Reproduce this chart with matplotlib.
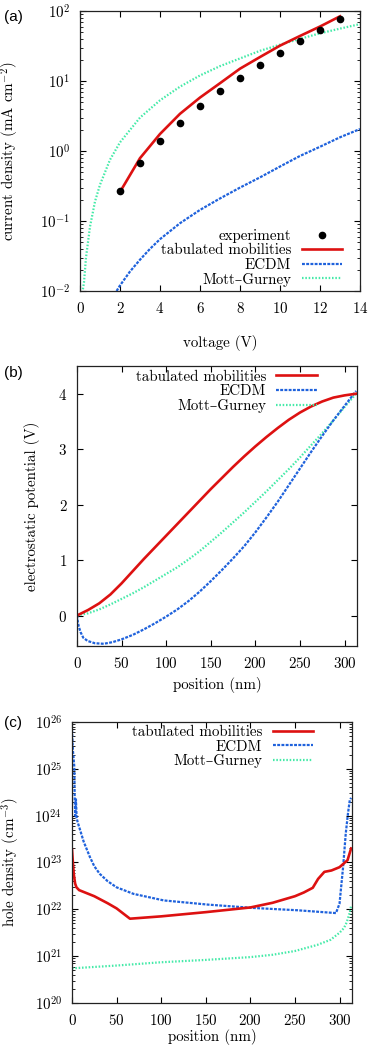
import matplotlib
matplotlib.use("Agg")
import matplotlib.pyplot as plt
from matplotlib.ticker import LogLocator, NullFormatter, MultipleLocator
import numpy as np

# (a) current density vs voltage
V_exp = [2, 3, 4, 5, 6, 7, 8, 9, 10, 11, 12, 13]
J_exp = [0.27, 0.67, 1.39, 2.55, 4.4, 7.2, 11.2, 17.2, 25.5, 37, 53, 76]
V_tab = [2, 3, 4, 5, 6, 7, 8, 9, 10, 11, 12, 13]
J_tab = [0.26, 0.79, 1.75, 3.4, 5.8, 9.3, 15, 22, 32, 44, 60, 84]
V_ecdm = [1.83, 2, 2.5, 3, 3.5, 4, 5, 6, 7, 8, 9, 10, 11, 12, 13, 14]
J_ecdm = [0.01, 0.012, 0.019, 0.028, 0.04, 0.055, 0.093, 0.144, 0.21, 0.3,
          0.42, 0.6, 0.85, 1.15, 1.57, 2.06]
V_mg = [0.12, 0.2, 0.3, 0.5, 0.75, 1, 1.5, 2, 3, 4, 5, 6, 7, 8, 9, 10, 11, 12, 13, 14]
J_mg = [0.0095, 0.0133, 0.03, 0.083, 0.19, 0.33, 0.75, 1.33, 3.0, 5.3, 8.3, 12,
        16.3, 21, 27, 33, 40, 48, 56, 65]

# (b) electrostatic potential vs position
x_b = [0, 12.5, 25, 37.5, 50, 62.5, 75, 87.5, 100, 112.5, 125, 137.5, 150, 162.5,
       175, 187.5, 200, 212.5, 225, 237.5, 250, 262.5, 275, 287.5, 300, 313]
phi_tab = [0, 0.1, 0.22, 0.38, 0.58, 0.8, 1.02, 1.23, 1.44, 1.65, 1.86, 2.07, 2.28,
           2.48, 2.68, 2.87, 3.05, 3.22, 3.38, 3.53, 3.66, 3.77, 3.86, 3.93, 3.97, 4.0]
phi_mg = [0, 0.04, 0.11, 0.2, 0.3, 0.4, 0.51, 0.63, 0.75, 0.87, 1.01, 1.16, 1.33,
          1.5, 1.68, 1.86, 2.05, 2.24, 2.44, 2.64, 2.85, 3.07, 3.29, 3.52, 3.76, 4.0]
x_ecdm_b = [0, 1, 2, 4, 7, 12, 20, 30, 40, 50, 62.5, 75, 87.5, 100, 112.5, 125,
            137.5, 150, 162.5, 175, 187.5, 200, 212.5, 225, 237.5, 250, 262.5, 275,
            287.5, 300, 313]
phi_ecdm = [0, -0.12, -0.2, -0.3, -0.4, -0.46, -0.5, -0.51, -0.48, -0.43, -0.35,
            -0.25, -0.14, -0.02, 0.11, 0.26, 0.43, 0.62, 0.82, 1.03, 1.25, 1.5, 1.77,
            2.05, 2.35, 2.65, 2.95, 3.24, 3.52, 3.78, 4.05]

# (c) hole density vs position (log10 of cm^-3)
x_tab_c = [0, 1, 2, 3.5, 5, 8, 25, 40, 50, 65, 100, 150, 200, 225, 250, 260,
           270, 276, 283, 291, 300, 309, 313]
p_tab = [23.28, 23.0, 22.75, 22.55, 22.47, 22.41, 22.28, 22.13, 22.02, 21.80, 21.85,
         21.94, 22.04, 22.14, 22.28, 22.36, 22.46, 22.65, 22.80, 22.83, 22.90,
         23.05, 23.30]
x_ecdm_c = [0, 1, 2.6, 3.0, 3.6, 4.4, 5.2, 6.5, 9, 13, 20, 25, 31, 40, 50, 69, 103,
            153, 203, 253, 296, 300, 304, 307, 309.5, 311.5, 313]
p_ecdm = [25.83, 25.4, 25.04, 24.4, 24.0, 24.35, 23.95, 23.85, 23.7, 23.45, 23.12,
          22.92, 22.76, 22.6, 22.47, 22.33, 22.19, 22.10, 22.03, 21.98, 21.92, 22.12,
          22.9, 23.62, 24.05, 24.33, 24.38]
x_mg_c = [0, 50, 100, 150, 200, 225, 250, 275, 290, 300, 305, 308, 311, 313]
p_mg = [20.74, 20.80, 20.87, 20.92, 20.98, 21.03, 21.11, 21.24, 21.35, 21.5, 21.6,
        21.72, 21.9, 22.07]

RED = '#dd1111'
BLUE = '#1f62dc'
GREEN = '#44eaa8'
FS = 10.8
DASH = (0, (1.3, 0.6))
DOT = (0, (0.7, 0.8))

plt.rcParams['font.family'] = ['cmr10', 'DejaVu Serif']
plt.rcParams['mathtext.fontset'] = 'cm'
plt.rcParams['axes.formatter.use_mathtext'] = True
plt.rcParams['font.size'] = FS
plt.rcParams['lines.dash_capstyle'] = 'butt'


def style_axes(ax):
    ax.tick_params(which='both', direction='in', top=True, right=True,
                   labelsize=FS, pad=7)
    ax.tick_params(which='major', length=4, width=0.8)
    ax.tick_params(which='minor', length=2, width=0.6)
    for s in ax.spines.values():
        s.set_linewidth(0.9)
        s.set_color('#222222')


def add_legend(ax, handles, loc, anchor):
    leg = ax.legend(handles=handles, loc=loc, bbox_to_anchor=anchor,
                    markerfirst=False, frameon=False, fontsize=FS,
                    handlelength=2.7, handletextpad=0.7, labelspacing=0.05,
                    borderpad=0, borderaxespad=0)
    return leg


fig = plt.figure(figsize=(3.71, 10.5), dpi=100)

# ---- (a)
ax1 = fig.add_axes([80/371, 1-291/1050, 280/371, 280/1050])
l_mg, = ax1.plot(V_mg, J_mg, color=GREEN, lw=1.6, linestyle=DOT, label='Mott–Gurney')
l_ec, = ax1.plot(V_ecdm, J_ecdm, color=BLUE, lw=1.6, linestyle=DASH, label='ECDM')
l_tab, = ax1.plot(V_tab, J_tab, color=RED, lw=1.9, label='tabulated mobilities')
l_exp, = ax1.plot(V_exp, J_exp, 'o', color='black', ms=4.5, linestyle='', label='experiment')
ax1.set_yscale('log')
ax1.set_xlim(0, 14)
ax1.set_ylim(1e-2, 1e2)
ax1.xaxis.set_major_locator(MultipleLocator(2))
ax1.yaxis.set_major_locator(LogLocator(base=10, numticks=10))
ax1.yaxis.set_minor_locator(LogLocator(base=10, subs=np.arange(2, 10), numticks=100))
ax1.yaxis.set_minor_formatter(NullFormatter())
style_axes(ax1)
ax1.set_xlabel('voltage (V)')
ax1.set_ylabel(r'current density (mA cm$^{-2}$)')
ax1.xaxis.set_label_coords(0.5, -0.157)
ax1.yaxis.set_label_coords(-0.211, 0.5)
add_legend(ax1, [l_exp, l_tab, l_ec, l_mg], 'lower right', (0.936, 0.016))

# ---- (b)
ax2 = fig.add_axes([77/371, 1-646/1050, 280/371, 280/1050])
b_mg, = ax2.plot(x_b, phi_mg, color=GREEN, lw=1.6, linestyle=DOT, label='Mott–Gurney')
b_ec, = ax2.plot(x_ecdm_b, phi_ecdm, color=BLUE, lw=1.6, linestyle=DASH, label='ECDM')
b_tab, = ax2.plot(x_b, phi_tab, color=RED, lw=1.9, label='tabulated mobilities')
ax2.set_xlim(0, 314)
ax2.set_ylim(-0.55, 4.5)
ax2.xaxis.set_major_locator(MultipleLocator(50))
ax2.yaxis.set_major_locator(MultipleLocator(1))
style_axes(ax2)
ax2.set_xlabel('position (nm)')
ax2.set_ylabel('electrostatic potential (V)')
ax2.xaxis.set_label_coords(0.5, -0.11)
ax2.yaxis.set_label_coords(-0.132, 0.5)
add_legend(ax2, [b_tab, b_ec, b_mg], 'upper right', (0.857, 0.986))

# ---- (c)
ax3 = fig.add_axes([72/371, 1-1003/1050, 280/371, 281/1050])
c_mg, = ax3.plot(x_mg_c, [10**v for v in p_mg], color=GREEN, lw=1.6, linestyle=DOT, label='Mott–Gurney')
c_ec, = ax3.plot(x_ecdm_c, [10**v for v in p_ecdm], color=BLUE, lw=1.6, linestyle=DASH, label='ECDM')
c_tab, = ax3.plot(x_tab_c, [10**v for v in p_tab], color=RED, lw=1.9, label='tabulated mobilities')
ax3.set_yscale('log')
ax3.set_xlim(0, 314)
ax3.set_ylim(1e20, 1e26)
ax3.xaxis.set_major_locator(MultipleLocator(50))
ax3.yaxis.set_major_locator(LogLocator(base=10, numticks=10))
ax3.yaxis.set_minor_locator(LogLocator(base=10, subs=np.arange(2, 10), numticks=100))
ax3.yaxis.set_minor_formatter(NullFormatter())
style_axes(ax3)
ax3.set_xlabel('position (nm)')
ax3.set_ylabel(r'hole density (cm$^{-3}$)')
ax3.xaxis.set_label_coords(0.5, -0.094)
ax3.yaxis.set_label_coords(-0.180, 0.5)
add_legend(ax3, [c_tab, c_ec, c_mg], 'upper right', (0.861, 0.9875))

# panel letters
for lbl, yy in [('(a)', 17), ('(b)', 373), ('(c)', 723)]:
    fig.text(13/371, 1-yy/1050, lbl, family=['Liberation Sans', 'DejaVu Sans'],
             fontsize=11, ha='center', va='center')

fig.savefig('out.png', dpi=100)
